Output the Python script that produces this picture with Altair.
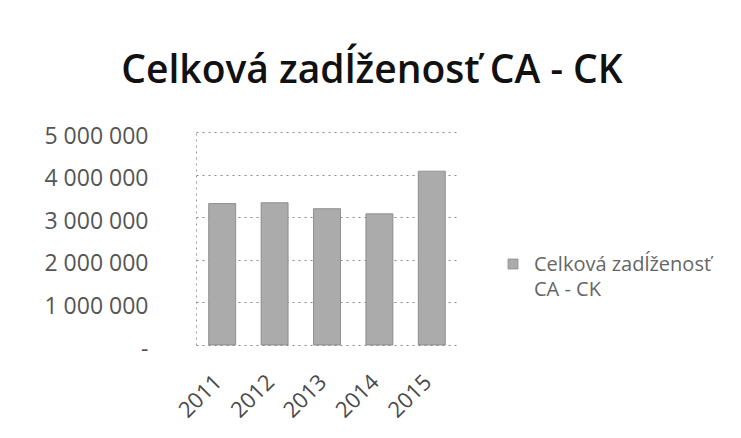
import altair as alt
import pandas as pd

years = ["2011", "2012", "2013", "2014", "2015"]
values = [3320000, 3340000, 3200000, 3080000, 4080000]
series_name = "Celková zadĺženosť CA - CK"
y_ticks = [0, 1000000, 2000000, 3000000, 4000000, 5000000]

df = pd.DataFrame({"rok": years, "hodnota": values, "serie": [series_name] * len(years)})

bars = alt.Chart(df).mark_bar(size=27, stroke="#808080", strokeWidth=0.8).encode(
    x=alt.X("rok:N", title=None,
            scale=alt.Scale(paddingInner=0, paddingOuter=0),
            axis=alt.Axis(labelAngle=-45, labelFont="Open Sans", labelFontSize=22,
                          labelColor="#4a4a4a", labelPadding=26, labelOffset=-11,
                          ticks=False, domain=False, grid=False)),
    y=alt.Y("hodnota:Q", title=None,
            scale=alt.Scale(domain=[0, 5000000], nice=False),
            axis=alt.Axis(values=y_ticks, labelFont="Open Sans", labelFontSize=23,
                          labelColor="#555555", labelPadding=48, labelOffset=4,
                          ticks=False,
                          domain=True, domainColor="#9a9a9a", domainDash=[2, 4],
                          grid=True, gridColor="#8a8a8a", gridDash=[2, 4],
                          gridWidth=1,
                          labelExpr="datum.value == 0 ? '-' : replace(format(datum.value, ','), /,/g, ' ')")),
    color=alt.Color("serie:N", title=None,
                    scale=alt.Scale(range=["#ababab"]),
                    legend=alt.Legend(orient="none", legendX=310, legendY=113,
                                      symbolType="M-1.6,0.8H0.4V2.8H-1.6Z", symbolSize=100,
                                      symbolStrokeColor="#909090", symbolStrokeWidth=0.8,
                                      labelFont="Open Sans", labelFontSize=20,
                                      labelColor="#666666", labelBaseline="top",
                                      labelOffset=8, labelLimit=300,
                                      labelExpr="['Celková zadĺženosť', 'CA - CK']")),
)

chart = bars.properties(
    width=262,
    height=213,
    title=alt.TitleParams(series_name, font="Open Sans", fontSize=39, fontWeight=600,
                          color="#111111", anchor="middle", frame="group",
                          dx=45, offset=34),
    autosize=alt.AutoSizeParams(type="none"),
    padding={"left": 188, "top": 124, "right": 275, "bottom": 85},
).configure(
    view=alt.ViewConfig(strokeWidth=0),
    style={"guide-label": {"lineHeight": 25}},
)

chart.save("out.html", embed_options={"renderer": "svg", "actions": False})
